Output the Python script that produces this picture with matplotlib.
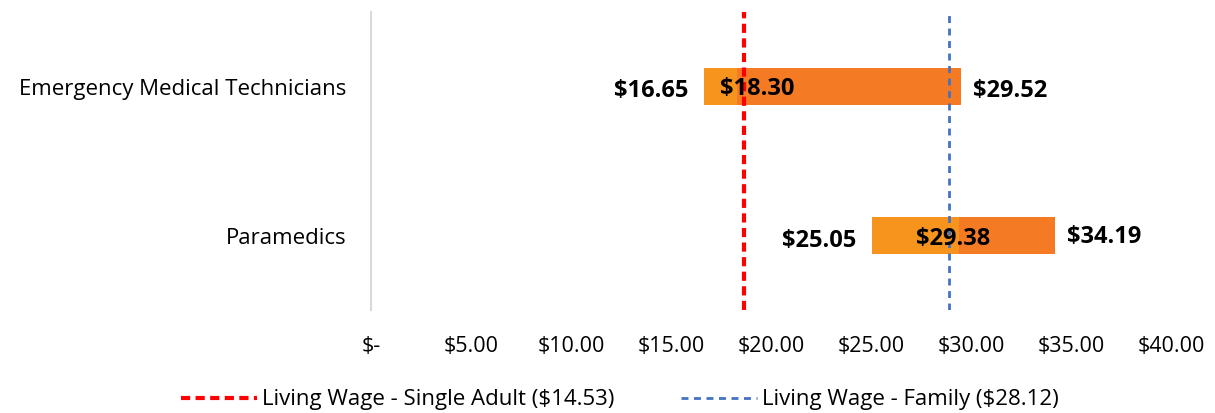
import matplotlib.pyplot as plt
from matplotlib.lines import Line2D
from matplotlib.ticker import FuncFormatter

plt.rcParams['font.family'] = ['Open Sans', 'DejaVu Sans']

# hourly wage ranges per occupation
occupations = ["Emergency Medical Technicians", "Paramedics"]
wage_low = [16.65, 25.05]
wage_median = [18.30, 29.38]
wage_high = [29.52, 34.19]

# living wage reference lines (legend values and where they sit on the chart)
lw_names = ["Living Wage - Single Adult", "Living Wage - Family"]
lw_values = [14.53, 28.12]
lw_drawn_at = [18.65, 28.9]

ticks = [0, 5, 10, 15, 20, 25, 30, 35, 40]

light_orange = "#F7941D"
dark_orange = "#F47A24"

fig = plt.figure(figsize=(12.15, 4.13), dpi=100)
ax = fig.add_axes([371 / 1215, 1 - 310 / 413, 800 / 1215, 298 / 413])

y = list(range(len(occupations)))
bar_h = 0.25
for i in y:
    ax.barh(i, wage_median[i] - wage_low[i], left=wage_low[i], height=bar_h,
            color=light_orange, zorder=2)
    ax.barh(i, wage_high[i] - wage_median[i], left=wage_median[i], height=bar_h,
            color=dark_orange, zorder=2)

# data labels (pixel nudges to sit like the original labels)
lab_kw = dict(fontsize=17, fontweight='bold', color='black', va='center', zorder=5)
low_dy = [-4, -6]
med_dx, med_dy = [20, -5], [-2, -3]
high_dy = [-4, -1]
for i in y:
    ax.annotate(f"${wage_low[i]:.2f}", (wage_low[i], i), xytext=(-16, low_dy[i]),
                textcoords='offset pixels', ha='right', **lab_kw)
    ax.annotate(f"${wage_high[i]:.2f}", (wage_high[i], i), xytext=(12, high_dy[i]),
                textcoords='offset pixels', ha='left', **lab_kw)
    ax.annotate(f"${wage_median[i]:.2f}", (wage_median[i], i), xytext=(med_dx[i], med_dy[i]),
                textcoords='offset pixels', ha='center', **lab_kw)

# living wage lines
ax.axvline(lw_drawn_at[0], color='#FF0000', lw=3, ls=(0, (2.2, 1.3)), zorder=4)
ax.axvline(lw_drawn_at[1], color='#4472C4', lw=2, ls=(0, (2.5, 2)), zorder=4)

ax.set_xlim(0, 40)
ax.set_ylim(len(occupations) - 0.5, -0.5)
ax.set_xticks(ticks)
ax.xaxis.set_major_formatter(FuncFormatter(lambda v, p: "$-" if v == 0 else f"${v:.2f}"))
ax.set_yticks(y)
ax.set_yticklabels(occupations)
ax.tick_params(axis='x', length=0, labelsize=15.5, pad=19)
ax.tick_params(axis='y', length=0, labelsize=16, pad=18)
for s in ['top', 'right', 'bottom']:
    ax.spines[s].set_visible(False)
ax.spines['left'].set_color('#D9D9D9')
ax.spines['left'].set_linewidth(1.5)

handles = [Line2D([], [], color='#FF0000', lw=3, ls=(0, (2.2, 1.3))),
           Line2D([], [], color='#4472C4', lw=2, ls=(0, (2.5, 2)))]
labels = [f"{n} (${v:.2f})" for n, v in zip(lw_names, lw_values)]
fig.legend(handles, labels, loc='center', bbox_to_anchor=(620 / 1215, 1 - 400 / 413),
           ncol=2, frameon=False, fontsize=16, handlelength=3.4, handletextpad=0.25,
           columnspacing=3.0)

fig.savefig("out.png", dpi=100)
